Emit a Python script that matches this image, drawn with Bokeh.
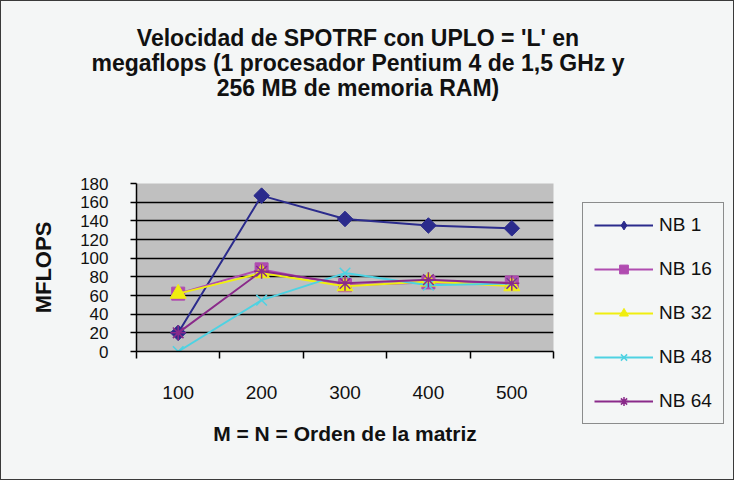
from bokeh.plotting import figure
from bokeh.layouts import column, row
from bokeh.models import FixedTicker, Legend, LegendItem, Range1d, Label
from bokeh.embed import file_html
from bokeh.resources import INLINE

# ---- data ----
sizes = [100, 200, 300, 400, 500]
series_names = ["NB 1", "NB 16", "NB 32", "NB 48", "NB 64"]
nb1 = [20, 167, 142, 135, 132]
nb16 = [62, 88, 71, 74, 74]
nb32 = [62, 84, 70, 75, 70]
nb48 = [0, 55, 84, 71, 73]
nb64 = [20, 86, 73, 77, 73]
y_ticks = [0, 20, 40, 60, 80, 100, 120, 140, 160, 180]
x_boundaries = [50, 150, 250, 350, 450, 550]
title_lines = [
    "Velocidad de SPOTRF con UPLO = 'L' en",
    "megaflops (1 procesador Pentium 4 de 1,5 GHz y",
    "256 MB de memoria RAM)",
]
x_title = "M = N = Orden de la matriz"
y_title = "MFLOPS"

FONT = "Liberation Sans"
BG = "#f4f6f6"
TXT = "#111111"


def blank_fig(w, h, xr, yr, **kw):
    return figure(width=w, height=h, title=None, x_axis_type=None, y_axis_type=None,
                  x_range=xr, y_range=yr,
                  output_backend="svg", toolbar_location=None,
                  background_fill_color=BG, border_fill_color=BG,
                  outline_line_color=None,
                  min_border_left=0, min_border_right=0,
                  min_border_top=0, min_border_bottom=0, **kw)


# ---- title strip (frame = whole strip, 1 unit = 1 px) ----
TW, TH = 732, 165
tfig = blank_fig(TW, TH, Range1d(0, TW), Range1d(0, TH))
title_center_x = 356.5
title_baselines_from_top = [36.5, 61.5, 86.5]
for line, base in zip(title_lines, title_baselines_from_top):
    tfig.add_layout(Label(x=title_center_x, y=TH - base, text=line,
                          text_align="center", text_baseline="alphabetic",
                          text_font=FONT, text_font_size="23px",
                          text_font_style="bold", text_color=TXT))

# ---- main chart ----
p = figure(width=562, height=313, title=None,
           x_range=Range1d(50, 550), y_range=Range1d(0, 180),
           output_backend="svg", toolbar_location=None,
           min_border_left=135, min_border_right=10,
           min_border_top=17, min_border_bottom=128,
           background_fill_color="#c0c0c0", border_fill_color=BG,
           outline_line_color=None)

p.xgrid.visible = False
p.ygrid.ticker = FixedTicker(ticks=y_ticks)
p.ygrid.grid_line_color = "black"
p.ygrid.grid_line_width = 1.5

ya = p.yaxis[0]
ya.ticker = FixedTicker(ticks=y_ticks)
ya.axis_line_color = "black"
ya.axis_line_width = 1.5
ya.major_tick_line_color = "black"
ya.major_tick_line_width = 1.5
ya.major_tick_out = 6
ya.major_tick_in = 0
ya.minor_tick_line_color = None
ya.major_label_text_font = FONT
ya.major_label_text_font_size = "17px"
ya.major_label_text_color = TXT
ya.major_label_standoff = 22
ya.axis_label = y_title
ya.axis_label_text_font = FONT
ya.axis_label_text_font_size = "22px"
ya.axis_label_text_font_style = "bold"
ya.axis_label_text_color = TXT
ya.axis_label_standoff = 21

xa = p.xaxis[0]
xa.ticker = FixedTicker(ticks=sizes, minor_ticks=x_boundaries)
xa.axis_line_color = "black"
xa.axis_line_width = 1.5
xa.major_tick_line_color = None
xa.major_tick_out = 0
xa.major_tick_in = 0
xa.minor_tick_line_color = "black"
xa.minor_tick_line_width = 1.5
xa.minor_tick_out = 7
xa.minor_tick_in = 0
xa.major_label_text_font = FONT
xa.major_label_text_font_size = "19px"
xa.major_label_text_color = TXT
xa.major_label_standoff = 27
xa.axis_label = x_title
xa.axis_label_text_font = FONT
xa.axis_label_text_font_size = "21px"
xa.axis_label_text_font_style = "bold"
xa.axis_label_text_color = TXT
xa.axis_label_standoff = 20

# (values, colour, plot marker, size, angle, legend marker)
styles = [
    (nb1, "#2b2b8c", "square", 11, 0.785398, "diamond"),
    (nb16, "#b04cb0", "square", 13, 0.0, "square"),
    (nb32, "#f0ee10", "triangle", 16, 0.0, "triangle"),
    (nb48, "#4ed2e2", "x", 15, 0.0, "x"),
    (nb64, "#8a2a8a", "asterisk", 15, 0.0, "asterisk"),
]

# ---- legend strip: its frame shows nothing, the legend lives in its left panel ----
lfig = blank_fig(170, 313, Range1d(0, 1), Range1d(0, 1))

items = []
for name, (vals, color, marker, size, ang, lmarker) in zip(series_names, styles):
    outline_only = marker in ("x", "asterisk")
    p.line(sizes, vals, line_color=color, line_width=2)
    p.scatter(sizes, vals, marker=marker, size=size, angle=ang,
              fill_color=None if outline_only else color,
              line_color=color, line_width=1.5 if outline_only else 1)
    # legend swatches with the same styling (outside this strip's view)
    l_ln = lfig.line(sizes, vals, line_color=color, line_width=2)
    l_sc = lfig.scatter(sizes, vals, marker=lmarker, size=size,
                        fill_color=None if outline_only else color,
                        line_color=color, line_width=1.5 if outline_only else 1)
    items.append(LegendItem(label=name, renderers=[l_ln, l_sc]))

legend = Legend(items=items, location="top_left",
                orientation="vertical",
                border_line_color="#222222", border_line_width=1.5,
                background_fill_color=BG, background_fill_alpha=1.0,
                padding=11, spacing=22, margin=19,
                glyph_width=59, glyph_height=22, label_height=22,
                label_width=53, label_standoff=6,
                label_text_font=FONT, label_text_font_size="19px",
                label_text_color=TXT)
lfig.add_layout(legend, "left")

inner = row(p, lfig, spacing=0)
inner.styles = {"overflow": "hidden"}
layout = column(tfig, inner, spacing=0)
layout.styles = {"border": "1.5px solid #3a3a3a", "background-color": BG,
                 "overflow": "hidden"}

open("out.html", "w").write(file_html(layout, INLINE))
